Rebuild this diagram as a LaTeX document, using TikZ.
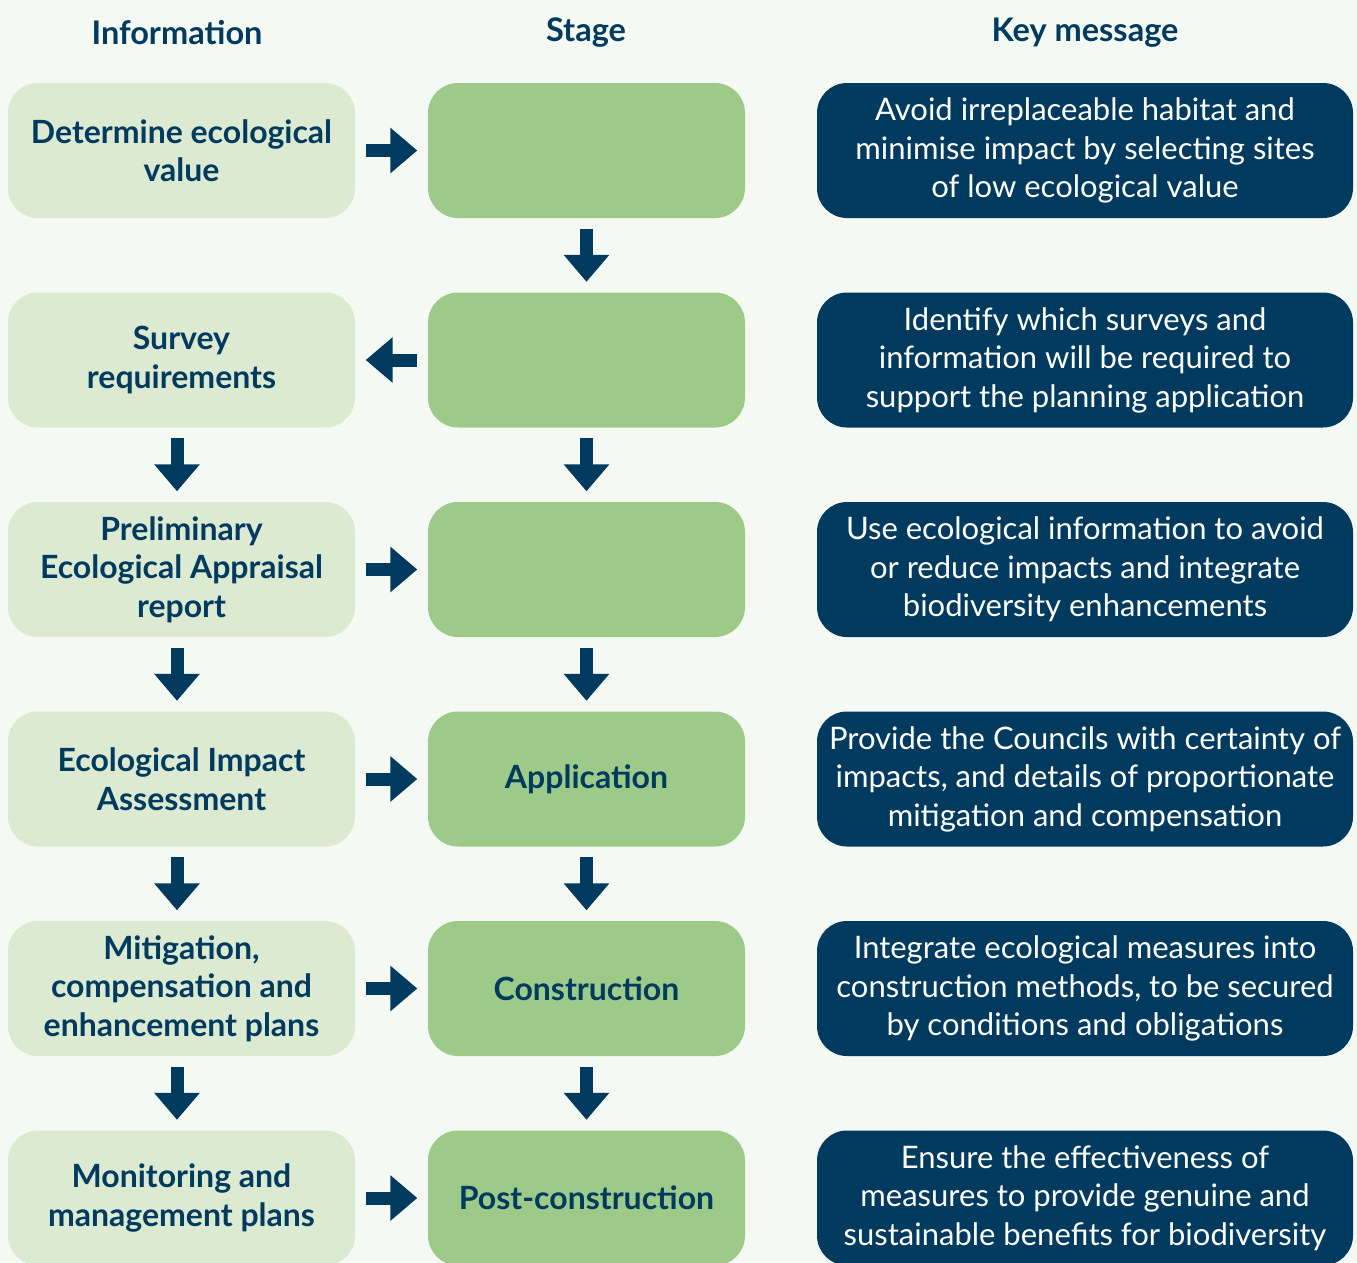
\documentclass[tikz,border=0pt]{standalone}
\usepackage{fontspec}
\setmainfont{Lato}
\usetikzlibrary{arrows.meta}

\definecolor{bgcol}{HTML}{F4F9F3}
\definecolor{infocol}{HTML}{DBEAD0}
\definecolor{stagecol}{HTML}{9DCA88}
\definecolor{navy}{HTML}{003A5F}

\begin{document}
\begin{tikzpicture}[x=1pt,y=1pt,
  txt/.style={font=\fontsize{32}{38.5}\selectfont, align=center, inner sep=0pt},
  head/.style={txt, font=\fontsize{32.5}{38.5}\selectfont\bfseries, text=navy},
  info/.style={txt, font=\fontsize{32}{38.5}\selectfont\bfseries, text=navy, fill=infocol, rounded corners=30pt, minimum width=347pt, minimum height=135pt},
  stage/.style={txt, font=\fontsize{32}{38.5}\selectfont\bfseries, text=navy, fill=stagecol, rounded corners=30pt, minimum width=317pt, minimum height=135pt},
  key/.style={txt, font=\fontsize{31}{38.5}\selectfont, text=white, fill=navy, rounded corners=30pt, minimum width=536pt, minimum height=135pt},
  arr/.style={color=navy, line width=13pt, -{Triangle[width=44pt,length=27pt]}, shorten <=10.5pt, shorten >=10.5pt}
]

\useasboundingbox (0,0) rectangle (1357,-1262);
\fill [bgcol] (0,0) rectangle (1357,-1262);

\node [head] (h1) at (177,-33) {Information};
\node [head] (h2) at (586,-33) {Stage};
\node [head] (h3) at (1085,-33) {Key message};

\node [info] (i1) at (181.5,-150.5) {Determine ecological\\value};
\node [info] (i2) at (181.5,-360) {Survey\\requirements};
\node [info] (i3) at (181.5,-569.5) {Preliminary\\Ecological Appraisal\\report};
\node [info] (i4) at (181.5,-779) {Ecological Impact\\Assessment};
\node [info] (i5) at (181.5,-988.5) {Mitigation,\\compensation and\\enhancement plans};
\node [info] (i6) at (181.5,-1198) {Monitoring and\\management plans};

\node [stage] (s1) at (586.5,-150.5) {};
\node [stage] (s2) at (586.5,-360) {};
\node [stage] (s3) at (586.5,-569.5) {};
\node [stage] (s4) at (586.5,-779) {Application};
\node [stage] (s5) at (586.5,-988.5) {Construction};
\node [stage] (s6) at (586.5,-1198) {Post-construction};

\node [key] (k1) at (1085,-150.5) {Avoid irreplaceable habitat and\\minimise impact by selecting sites\\of low ecological value};
\node [key] (k2) at (1085,-360) {Identify which surveys and\\information will be required to\\support the planning application};
\node [key] (k3) at (1085,-569.5) {Use ecological information to avoid\\or reduce impacts and integrate\\biodiversity enhancements};
\node [key] (k4) at (1085,-779) {Provide the Councils with certainty of\\impacts, and details of proportionate\\mitigation and compensation};
\node [key] (k5) at (1085,-988.5) {Integrate ecological measures into\\construction methods, to be secured\\by conditions and obligations};
\node [key] (k6) at (1085,-1198) {Ensure the effectiveness of\\measures to provide genuine and\\sustainable benefits for biodiversity};

% information to stage
\draw [arr] (i1) -- (s1);
\draw [arr] (s2) -- (i2);
\draw [arr] (i3) -- (s3);
\draw [arr] (i4) -- (s4);
\draw [arr] (i5) -- (s5);
\draw [arr] (i6) -- (s6);

% stage column
\foreach \a/\b in {s1/s2,s2/s3,s3/s4,s4/s5,s5/s6}
  \draw [arr] (\a) -- (\b);

% information column
\foreach \a/\b in {i2/i3,i3/i4,i4/i5,i5/i6}
  \draw [arr] ([xshift=-4.5pt]\a.south) -- ([xshift=-4.5pt]\b.north);

\end{tikzpicture}
\end{document}
